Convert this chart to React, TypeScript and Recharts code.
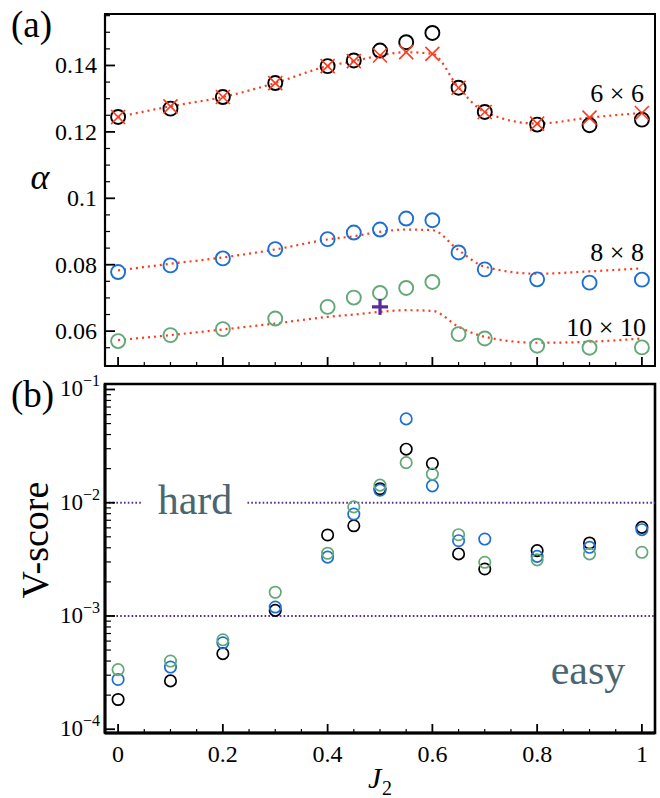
import React from "react";
import { ComposedChart, Line, Scatter, XAxis, YAxis, ReferenceLine, ReferenceArea } from "recharts";

// J2 values shared by both panels
const J2 = [0, 0.1, 0.2, 0.3, 0.4, 0.45, 0.5, 0.55, 0.6, 0.65, 0.7, 0.8, 0.9, 1.0];

// (a) alpha per lattice size, circles + dotted fits
const ALPHA_6 = [0.1245, 0.127, 0.1305, 0.1347, 0.1398, 0.1415, 0.1445, 0.147, 0.1498, 0.1333, 0.126, 0.1222, 0.122, 0.1237];
const FIT_6 = [0.1245, 0.1277, 0.1305, 0.1347, 0.1398, 0.1413, 0.143, 0.144, 0.1435, 0.1333, 0.126, 0.1225, 0.1243, 0.1257];
const ALPHA_8 = [0.0778, 0.0798, 0.0819, 0.0847, 0.0877, 0.0897, 0.0906, 0.0939, 0.0934, 0.0837, 0.0786, 0.0756, 0.0746, 0.0755];
const FIT_8 = [0.0783, 0.0803, 0.0822, 0.0846, 0.0876, 0.0886, 0.0899, 0.0906, 0.0904, 0.0844, 0.0794, 0.0773, 0.078, 0.0789];
const ALPHA_10 = [0.057, 0.0588, 0.0606, 0.0638, 0.0673, 0.0701, 0.0715, 0.073, 0.0748, 0.0591, 0.0578, 0.0556, 0.055, 0.0551];
const FIT_10 = [0.0573, 0.0588, 0.0605, 0.0623, 0.0643, 0.065, 0.0658, 0.0663, 0.0661, 0.0613, 0.0583, 0.0565, 0.0568, 0.0578];
const PLUS_MARK = [{ j2: 0.5, v: 0.0673 }];

// (b) V-score
const VS_6 = [1.83e-4, 2.67e-4, 4.65e-4, 1.12e-3, 5.19e-3, 6.26e-3, 1.33e-2, 2.97e-2, 2.22e-2, 3.53e-3, 2.6e-3, 3.78e-3, 4.41e-3, 6.06e-3];
const VS_8 = [2.75e-4, 3.54e-4, 5.8e-4, 1.2e-3, 3.31e-3, 7.95e-3, 1.29e-2, 5.5e-2, 1.41e-2, 4.62e-3, 4.78e-3, 3.36e-3, 4.04e-3, 5.78e-3];
const VS_10 = [3.36e-4, 4.0e-4, 6.16e-4, 1.62e-3, 3.58e-3, 9.2e-3, 1.43e-2, 2.26e-2, 1.79e-2, 5.22e-3, 2.98e-3, 3.13e-3, 3.53e-3, 3.65e-3];

const X_TICKS = [0, 0.05, 0.1, 0.15, 0.2, 0.25, 0.3, 0.35, 0.4, 0.45, 0.5, 0.55, 0.6, 0.65, 0.7, 0.75, 0.8, 0.85, 0.9, 0.95, 1];
const ALPHA_TICKS = [0.055, 0.06, 0.065, 0.07, 0.075, 0.08, 0.085, 0.09, 0.095, 0.1, 0.105, 0.11, 0.115, 0.12, 0.125, 0.13, 0.135, 0.14, 0.145, 0.15, 0.155];
const LOG_TICKS = [
  1e-4, 2e-4, 3e-4, 4e-4, 5e-4, 6e-4, 7e-4, 8e-4, 9e-4,
  1e-3, 2e-3, 3e-3, 4e-3, 5e-3, 6e-3, 7e-3, 8e-3, 9e-3,
  1e-2, 2e-2, 3e-2, 4e-2, 5e-2, 6e-2, 7e-2, 8e-2, 9e-2,
  1e-1,
];

const X_DOMAIN: [number, number] = [-0.025, 1.025];
const ALPHA_DOMAIN: [number, number] = [0.0495, 0.1555];
const VS_DOMAIN: [number, number] = [9.26e-5, 0.1118];

const alphaRows = J2.map((j2, i) => ({
  j2,
  a6: ALPHA_6[i],
  f6: FIT_6[i],
  a8: ALPHA_8[i],
  f8: FIT_8[i],
  a10: ALPHA_10[i],
  f10: FIT_10[i],
}));

const vsRows = J2.map((j2, i) => ({ j2, v6: VS_6[i], v8: VS_8[i], v10: VS_10[i] }));

const SERIF = "'Liberation Serif', 'DejaVu Serif', serif";
const BLACK = "#000000";
const BLUE = "#1c6fd4";
const GREEN = "#63a877";
const RED = "#ff3a1c";
const PURPLE = "#5a2a9c";
const NOTE = "#4b6670";

function ring(color: string, r: number, w: number) {
  return (p: any) => <circle cx={p.cx} cy={p.cy} r={r} fill="none" stroke={color} strokeWidth={w} />;
}

function cross(p: any) {
  const s = 7;
  return (
    <g stroke={RED} strokeWidth={1.6}>
      <line x1={p.cx - s} y1={p.cy - s} x2={p.cx + s} y2={p.cy + s} />
      <line x1={p.cx - s} y1={p.cy + s} x2={p.cx + s} y2={p.cy - s} />
    </g>
  );
}

function plus(p: any) {
  const s = 8;
  return (
    <g stroke={PURPLE} strokeWidth={3.2}>
      <line x1={p.cx - s} y1={p.cy} x2={p.cx + s} y2={p.cy} />
      <line x1={p.cx} y1={p.cy - s} x2={p.cx} y2={p.cy + s} />
    </g>
  );
}

function XTick(props: any) {
  const { x, y, payload, showLabel } = props;
  const v = payload.value;
  const major = Math.abs(v * 5 - Math.round(v * 5)) < 1e-6;
  const len = major ? 9 : 4;
  return (
    <g>
      <line x1={x} x2={x} y1={y} y2={y - len} stroke="#000" strokeWidth={major ? 1.8 : 1.2} />
      {showLabel && major && (
        <text x={x} y={y + 29} textAnchor="middle" fontSize={24} fontFamily={SERIF} fill="#000">
          {String(v)}
        </text>
      )}
    </g>
  );
}

function AlphaTick(props: any) {
  const { x, y, payload } = props;
  const v = payload.value;
  const major = Math.abs(v * 50 - Math.round(v * 50)) < 1e-6;
  const len = major ? 10 : 5;
  return (
    <g>
      <line x1={x} x2={x + len} y1={y} y2={y} stroke="#000" strokeWidth={major ? 1.8 : 1.2} />
      {major && (
        <text x={x - 8} y={y + 8} textAnchor="end" fontSize={24} fontFamily={SERIF} fill="#000">
          {String(v)}
        </text>
      )}
    </g>
  );
}

function LogTick(props: any) {
  const { x, y, payload } = props;
  const e = Math.log10(payload.value);
  const major = Math.abs(e - Math.round(e)) < 1e-6;
  const len = major ? 10 : 6;
  return (
    <g>
      <line x1={x} x2={x + len} y1={y} y2={y} stroke="#000" strokeWidth={major ? 1.8 : 1.2} />
      {major && (
        <text x={x - 5} y={y + 7} textAnchor="end" fontFamily={SERIF} fill="#000">
          <tspan fontSize={23}>10</tspan>
          <tspan fontSize={16} dy={-10}>{"\u2212" + Math.abs(Math.round(e))}</tspan>
        </text>
      )}
    </g>
  );
}

function AlphaPanel() {
  return (
    <ComposedChart width={660} height={370} data={alphaRows} margin={{ top: 14, right: 5, bottom: 3, left: 0 }}>
      <XAxis
        dataKey="j2"
        type="number"
        domain={X_DOMAIN}
        allowDataOverflow
        ticks={X_TICKS}
        interval={0}
        tickSize={0}
        tickMargin={0}
        height={1}
        tick={(p: any) => <XTick {...p} showLabel={false} />}
        axisLine={{ stroke: "#000", strokeWidth: 2.2 }}
      />
      <YAxis
        type="number"
        domain={ALPHA_DOMAIN}
        allowDataOverflow
        ticks={ALPHA_TICKS}
        interval={0}
        tickSize={0}
        tickMargin={0}
        width={105}
        tick={(p: any) => <AlphaTick {...p} />}
        axisLine={{ stroke: "#000", strokeWidth: 2.2 }}
      />
      <ReferenceArea x1={X_DOMAIN[0]} x2={X_DOMAIN[1]} y1={ALPHA_DOMAIN[0]} y2={ALPHA_DOMAIN[1]} fill="none" stroke="#000" strokeWidth={2} />
      <Line dataKey="f6" type="monotone" stroke={RED} strokeWidth={2.2} strokeDasharray="2 4" dot={false} isAnimationActive={false} />
      <Line dataKey="f8" type="monotone" stroke={RED} strokeWidth={2.2} strokeDasharray="2 4" dot={false} isAnimationActive={false} />
      <Line dataKey="f10" type="monotone" stroke={RED} strokeWidth={2.2} strokeDasharray="2 4" dot={false} isAnimationActive={false} />
      <Scatter dataKey="a6" shape={ring(BLACK, 7, 1.9)} isAnimationActive={false} />
      <Scatter dataKey="f6" shape={cross} isAnimationActive={false} />
      <Scatter dataKey="a8" shape={ring(BLUE, 7, 1.9)} isAnimationActive={false} />
      <Scatter dataKey="a10" shape={ring(GREEN, 7, 1.9)} isAnimationActive={false} />
      <Scatter data={PLUS_MARK} dataKey="v" shape={plus} isAnimationActive={false} />
    </ComposedChart>
  );
}

function VScorePanel() {
  return (
    <ComposedChart width={660} height={428} data={vsRows} margin={{ top: 14, right: 5, bottom: 15, left: 0 }}>
      <XAxis
        dataKey="j2"
        type="number"
        domain={X_DOMAIN}
        allowDataOverflow
        ticks={X_TICKS}
        interval={0}
        tickSize={0}
        tickMargin={0}
        height={50}
        tick={(p: any) => <XTick {...p} showLabel />}
        axisLine={{ stroke: "#000", strokeWidth: 2.8 }}
      />
      <YAxis
        type="number"
        scale="log"
        domain={VS_DOMAIN}
        allowDataOverflow
        ticks={LOG_TICKS}
        interval={0}
        tickSize={0}
        tickMargin={0}
        width={105}
        tick={(p: any) => <LogTick {...p} />}
        axisLine={{ stroke: "#000", strokeWidth: 2.8 }}
      />
      <ReferenceArea x1={X_DOMAIN[0]} x2={X_DOMAIN[1]} y1={VS_DOMAIN[0]} y2={VS_DOMAIN[1]} fill="none" stroke="#000" strokeWidth={2.6} />
      <ReferenceLine segment={[{ x: X_DOMAIN[0], y: 0.01 }, { x: 0.047, y: 0.01 }]} stroke={PURPLE} strokeWidth={2} strokeDasharray="1.6 2.2" />
      <ReferenceLine segment={[{ x: 0.247, y: 0.01 }, { x: X_DOMAIN[1], y: 0.01 }]} stroke={PURPLE} strokeWidth={2} strokeDasharray="1.6 2.2" />
      <ReferenceLine y={0.001} stroke={PURPLE} strokeWidth={2} strokeDasharray="1.6 2.2" />
      <Scatter dataKey="v6" shape={ring(BLACK, 5.7, 1.7)} isAnimationActive={false} />
      <Scatter dataKey="v8" shape={ring(BLUE, 5.7, 1.7)} isAnimationActive={false} />
      <Scatter dataKey="v10" shape={ring(GREEN, 5.7, 1.7)} isAnimationActive={false} />
    </ComposedChart>
  );
}

export default function App() {
  return (
    <div style={{ position: "absolute", left: 0, top: 0, width: 660, height: 798, background: "#fff" }}>
      <div style={{ position: "absolute", left: 0, top: 0 }}>
        <AlphaPanel />
      </div>
      <div style={{ position: "absolute", left: 0, top: 370 }}>
        <VScorePanel />
      </div>
      <svg width={660} height={798} style={{ position: "absolute", left: 0, top: 0, pointerEvents: "none" }} fontFamily={SERIF}>
        <text x={11} y={37} fontSize={37}>(a)</text>
        <text x={11} y={407} fontSize={37}>(b)</text>
        <text x={40} y={189} fontSize={36} fontStyle="italic" textAnchor="middle">α</text>
        <text x={644} y={102} fontSize={26} textAnchor="end">6 × 6</text>
        <text x={644} y={261} fontSize={26} textAnchor="end">8 × 8</text>
        <text x={646} y={336} fontSize={26} textAnchor="end">10 × 10</text>
        <text x={0} y={0} fontSize={38} textAnchor="middle" transform="translate(48 540) rotate(-90)">V-score</text>
        <text x={195} y={514} fontSize={42} fill={NOTE} textAnchor="middle">hard</text>
        <text x={588} y={684} fontSize={42} fill={NOTE} textAnchor="middle">easy</text>
        <text x={368} y={788} fontSize={30} fontStyle="italic">J</text>
        <text x={382} y={795} fontSize={20}>2</text>
      </svg>
    </div>
  );
}
